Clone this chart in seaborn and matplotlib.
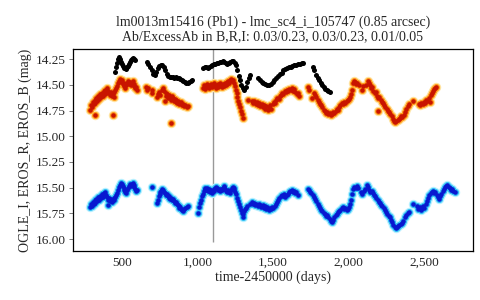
import matplotlib
matplotlib.use("Agg")
import matplotlib.pyplot as plt
import matplotlib.ticker as mticker
import seaborn as sns
import pandas as pd

sns.set_style("white")
plt.rcParams["font.family"] = ["Liberation Serif", "DejaVu Serif"]

# --- light curves (time-2450000, mag) --------------------------------------
ogle_i_t = [453, 460, 467, 474, 481, 488, 495, 502, 509, 516, 523, 530, 537, 544, 551, 558, 565, 572, 579, 586,
            665, 675, 685, 695, 705, 715, 725, 735, 745, 755, 765, 775, 785, 795, 805, 815, 825, 835, 845, 855,
            865, 875, 885, 895, 905, 915, 925, 935, 945, 955, 963,
            1036, 1046, 1056, 1066, 1076, 1086, 1096, 1106, 1116, 1126, 1136, 1146, 1156, 1166, 1176, 1186, 1196,
            1206, 1216, 1226, 1236, 1246, 1256, 1264, 1272, 1281, 1290, 1300, 1310, 1320, 1330, 1340, 1350,
            1400, 1412, 1424, 1436, 1448, 1460, 1472, 1484, 1496, 1508, 1520, 1532, 1544, 1556, 1568, 1580, 1592,
            1604, 1616, 1628, 1640, 1652, 1664, 1676, 1688, 1698,
            1764, 1774, 1784, 1794, 1804, 1814, 1824, 1834, 1844, 1856, 1866, 1877]
ogle_i_mag = [14.37, 14.33, 14.29, 14.25, 14.23, 14.25, 14.28, 14.30, 14.32, 14.34, 14.35, 14.33, 14.32, 14.30,
              14.28, 14.26, 14.25, 14.24, 14.25, 14.26,
              14.28, 14.30, 14.33, 14.36, 14.39, 14.40, 14.37, 14.34, 14.32, 14.31, 14.31, 14.33, 14.36, 14.39,
              14.41, 14.42, 14.42, 14.42, 14.43, 14.42, 14.43, 14.43, 14.44, 14.45, 14.46, 14.47, 14.48, 14.48,
              14.47, 14.46, 14.45,
              14.34, 14.33, 14.33, 14.34, 14.33, 14.32, 14.31, 14.30, 14.30, 14.29, 14.29, 14.28, 14.28, 14.27,
              14.28, 14.29, 14.30, 14.29, 14.28, 14.27, 14.27, 14.29, 14.31, 14.36, 14.41, 14.45, 14.50, 14.53,
              14.55, 14.52, 14.47, 14.43, 14.40,
              14.43, 14.45, 14.47, 14.48, 14.49, 14.50, 14.50, 14.49, 14.47, 14.45, 14.43, 14.41, 14.39, 14.38,
              14.36, 14.35, 14.34, 14.33, 14.33, 14.32, 14.31, 14.31, 14.30, 14.30, 14.29, 14.29,
              14.33, 14.36, 14.40, 14.43, 14.45, 14.48, 14.50, 14.52, 14.54, 14.55, 14.56, 14.57]

eros_r_t = [288, 294, 300, 306, 312, 318, 324, 330, 336, 342, 348, 354, 360, 366, 372, 378, 384, 390, 396, 402,
            408, 414, 420, 426, 432, 438, 444, 450, 456, 462, 468, 474, 480, 486, 492, 498, 504, 510, 516, 522,
            528, 534, 540, 546, 552, 558, 564, 570, 576, 582, 588, 594, 600, 322, 442,
            660, 666, 672, 695, 700, 730, 738, 746, 754, 762, 770, 776, 782, 788, 794, 800, 806, 812, 818, 824,
            830, 836, 842, 848, 854, 860, 866, 872, 880, 888, 896, 904, 912, 920, 928, 936, 824,
            1036, 1042, 1048, 1054, 1060, 1066, 1072, 1078, 1084, 1090, 1096, 1102, 1108, 1114, 1120, 1126, 1132,
            1138, 1144, 1150, 1156, 1162, 1168, 1174, 1180, 1186, 1192, 1198, 1204, 1210, 1216, 1222, 1228, 1234,
            1240, 1246, 1252, 1258, 1264, 1270, 1276, 1282, 1288, 1294, 1300,
            1334, 1360, 1368, 1376, 1384, 1392, 1400, 1408, 1416, 1424, 1432, 1440, 1448, 1456, 1464, 1472, 1480,
            1488, 1496, 1504, 1512, 1520, 1528, 1536, 1544, 1552, 1560, 1568, 1576, 1584, 1592, 1600, 1608, 1616,
            1624, 1632, 1640, 1648, 1656, 1664, 1670,
            1730, 1738, 1758, 1770, 1778, 1786, 1794, 1802, 1810, 1818, 1826, 1834, 1842, 1850, 1858, 1866, 1874,
            1882, 1890, 1898, 1906, 1914, 1922, 1930, 1938, 1946, 1954, 1962, 1970, 1978, 1986, 1994, 2002, 2010,
            2016, 2022, 2028, 2034, 2040, 2048, 2056, 2070, 2088, 2096, 2116, 2126, 2132, 2140, 2148, 2156, 2164,
            2172, 2180, 2188, 2196, 2196, 2204, 2212, 2220, 2228, 2236, 2244, 2252, 2260, 2268, 2276, 2284, 2292,
            2300, 2308, 2316, 2324, 2332, 2340, 2348, 2356, 2364, 2372, 2380, 2390, 2400, 2426, 2466, 2474, 2482,
            2490, 2498, 2506, 2514, 2522, 2530, 2536, 2542, 2550, 2558, 2566, 2574, 2580]
eros_r_mag = [14.74, 14.70, 14.72, 14.67, 14.69, 14.65, 14.68, 14.63, 14.66, 14.61, 14.64, 14.59, 14.62, 14.58,
              14.61, 14.56, 14.59, 14.55, 14.58, 14.53, 14.56, 14.58, 14.60, 14.57, 14.61, 14.59, 14.62, 14.57,
              14.55, 14.53, 14.51, 14.48, 14.46, 14.44, 14.47, 14.45, 14.49, 14.48, 14.51, 14.53, 14.50, 14.48,
              14.46, 14.49, 14.47, 14.50, 14.48, 14.46, 14.49, 14.51, 14.53, 14.52, 14.55, 14.79, 14.79,
              14.52, 14.55, 14.53, 14.55, 14.58, 14.62, 14.59, 14.57, 14.60, 14.55, 14.53, 14.56, 14.66, 14.58,
              14.61, 14.59, 14.63, 14.60, 14.62, 14.65, 14.61, 14.63, 14.66, 14.64, 14.67, 14.65, 14.68, 14.66,
              14.69, 14.67, 14.70, 14.69, 14.71, 14.70, 14.72, 14.71, 14.87,
              14.53, 14.50, 14.54, 14.51, 14.49, 14.52, 14.50, 14.53, 14.51, 14.49, 14.52, 14.50, 14.48, 14.51,
              14.53, 14.50, 14.52, 14.49, 14.51, 14.48, 14.50, 14.52, 14.49, 14.51, 14.48, 14.50, 14.47, 14.49,
              14.46, 14.48, 14.45, 14.44, 14.46, 14.45, 14.48, 14.51, 14.55, 14.58, 14.62, 14.66, 14.69, 14.72,
              14.75, 14.78, 14.82,
              14.65, 14.66, 14.68, 14.66, 14.69, 14.67, 14.70, 14.68, 14.71, 14.69, 14.72, 14.70, 14.73, 14.71,
              14.74, 14.72, 14.70, 14.73, 14.69, 14.67, 14.68, 14.65, 14.63, 14.64, 14.61, 14.60, 14.58, 14.59,
              14.56, 14.57, 14.55, 14.56, 14.54, 14.55, 14.53, 14.56, 14.54, 14.57, 14.59, 14.58, 14.61,
              14.52, 14.55, 14.63, 14.58, 14.60, 14.62, 14.65, 14.67, 14.69, 14.70, 14.72, 14.74, 14.75, 14.77,
              14.76, 14.78, 14.77, 14.79, 14.78, 14.76, 14.77, 14.75, 14.73, 14.74, 14.72, 14.70, 14.68, 14.69,
              14.67, 14.68, 14.66, 14.65, 14.64, 14.62, 14.59, 14.55, 14.48, 14.46, 14.47, 14.49, 14.48, 14.50,
              14.55, 14.51, 14.50, 14.46, 14.48, 14.50, 14.53, 14.52, 14.56, 14.58, 14.57, 14.61, 14.63, 14.75,
              14.62, 14.65, 14.67, 14.68, 14.70, 14.72, 14.73, 14.75, 14.76, 14.78, 14.80, 14.83, 14.85, 14.86,
              14.85, 14.84, 14.83, 14.82, 14.80, 14.81, 14.79, 14.76, 14.73, 14.71, 14.69, 14.66, 14.69, 14.70,
              14.68, 14.69, 14.67, 14.68, 14.65, 14.66, 14.63, 14.67, 14.60, 14.58, 14.56, 14.54, 14.53, 14.52]

eros_b_t = [288, 294, 300, 306, 312, 318, 324, 330, 336, 342, 348, 354, 360, 366, 372, 378, 384, 390, 396, 402,
            408, 408, 414, 420, 426, 432, 438, 444, 450, 456, 462, 468, 474, 480, 486, 492, 498, 504, 510, 516,
            522, 528, 534, 540, 546, 552, 558, 564, 570, 576, 582, 588, 594, 600,
            698, 730, 736, 742, 748, 754, 760, 766, 772, 778, 784, 790, 796, 802, 808, 814, 820, 826, 832, 838,
            844, 850, 856, 862, 868, 874, 880, 886, 892, 898, 904, 912, 920, 930, 938,
            1003, 1010, 1016, 1022, 1028, 1034, 1040, 1046, 1052, 1058, 1064, 1070, 1076, 1082, 1088, 1094, 1100,
            1106, 1112, 1118, 1124, 1130, 1136, 1142, 1148, 1154, 1160, 1166, 1172, 1178, 1184, 1190, 1196, 1202,
            1208, 1214, 1220, 1226, 1232, 1238, 1244, 1250, 1256, 1262, 1268, 1274, 1280, 1286, 1292, 1298, 1304,
            1310, 1316, 1322, 1328,
            1350, 1358, 1366, 1374, 1382, 1390, 1398, 1406, 1414, 1422, 1430, 1438, 1446, 1454, 1462, 1470, 1478,
            1486, 1494, 1502, 1510, 1518, 1526, 1534, 1542, 1550, 1558, 1566, 1574, 1582, 1590, 1598, 1606, 1614,
            1622, 1630, 1638, 1646, 1654, 1662,
            1730, 1738, 1746, 1754, 1762, 1770, 1778, 1786, 1794, 1802, 1810, 1818, 1826, 1834, 1842, 1850, 1858,
            1866, 1874, 1882, 1890, 1898, 1906, 1914, 1922, 1930, 1938, 1946, 1954, 1962, 1970, 1978, 1986, 1994,
            2002, 2010, 2018, 2024, 2030, 2038, 2046, 2054, 2062, 2080, 2090, 2100, 2110, 2120, 2128, 2136, 2144,
            2152, 2160, 2168, 2176, 2184, 2192, 2200, 2208, 2216, 2224, 2232, 2240, 2248, 2256, 2264, 2272, 2280,
            2288, 2296, 2304, 2312, 2320, 2328, 2336, 2344, 2352, 2360, 2370, 2380, 2390, 2400, 2426, 2455, 2462,
            2470, 2478, 2486, 2494, 2502, 2510, 2518, 2526, 2534, 2542, 2550, 2558, 2566, 2574, 2582, 2590, 2598,
            2606, 2614, 2622, 2630, 2638, 2646, 2654, 2662, 2670, 2678, 2686, 2694, 2704]
eros_b_mag = [15.69, 15.66, 15.68, 15.64, 15.66, 15.62, 15.65, 15.61, 15.63, 15.59, 15.62, 15.58, 15.60, 15.56,
              15.59, 15.55, 15.57, 15.54, 15.57, 15.59, 15.62, 15.67, 15.60, 15.63, 15.61, 15.64, 15.62, 15.60,
              15.62, 15.59, 15.57, 15.55, 15.52, 15.49, 15.47, 15.45, 15.46, 15.48, 15.50, 15.52, 15.54, 15.55,
              15.52, 15.50, 15.48, 15.46, 15.48, 15.46, 15.45, 15.47, 15.49, 15.51, 15.53, 15.52,
              15.49, 15.65, 15.62, 15.58, 15.56, 15.54, 15.53, 15.51, 15.52, 15.54, 15.55, 15.57, 15.56, 15.58,
              15.60, 15.58, 15.61, 15.60, 15.62, 15.61, 15.63, 15.65, 15.64, 15.66, 15.67, 15.68, 15.70, 15.69,
              15.71, 15.72, 15.73, 15.71, 15.70, 15.69, 15.68,
              15.75, 15.69, 15.65, 15.62, 15.58, 15.56, 15.53, 15.51, 15.50, 15.52, 15.50, 15.53, 15.51, 15.54,
              15.52, 15.55, 15.53, 15.51, 15.53, 15.50, 15.49, 15.50, 15.52, 15.51, 15.53, 15.51, 15.52, 15.50,
              15.48, 15.49, 15.51, 15.53, 15.54, 15.52, 15.54, 15.55, 15.52, 15.50, 15.49, 15.50, 15.52, 15.54,
              15.56, 15.60, 15.63, 15.66, 15.69, 15.72, 15.75, 15.79, 15.76, 15.73, 15.71, 15.70, 15.68,
              15.66, 15.64, 15.66, 15.65, 15.67, 15.66, 15.68, 15.66, 15.67, 15.69, 15.67, 15.70, 15.68, 15.71,
              15.69, 15.72, 15.70, 15.71, 15.69, 15.70, 15.68, 15.66, 15.64, 15.62, 15.60, 15.58, 15.57, 15.58,
              15.56, 15.59, 15.57, 15.56, 15.54, 15.53, 15.52, 15.54, 15.53, 15.55, 15.54, 15.57,
              15.51, 15.52, 15.54, 15.55, 15.57, 15.59, 15.61, 15.63, 15.66, 15.68, 15.70, 15.72, 15.73, 15.75,
              15.76, 15.78, 15.77, 15.79, 15.80, 15.82, 15.83, 15.81, 15.79, 15.77, 15.76, 15.74, 15.73, 15.72,
              15.70, 15.69, 15.71, 15.70, 15.72, 15.71, 15.69, 15.66, 15.62, 15.56, 15.51, 15.49, 15.50, 15.48,
              15.50, 15.54, 15.56, 15.53, 15.51, 15.47, 15.49, 15.52, 15.54, 15.53, 15.55, 15.57, 15.58, 15.60,
              15.62, 15.64, 15.65, 15.67, 15.68, 15.70, 15.72, 15.74, 15.76, 15.78, 15.79, 15.81, 15.83, 15.86,
              15.88, 15.89, 15.88, 15.87, 15.86, 15.85, 15.84, 15.82, 15.79, 15.77, 15.75, 15.74, 15.66, 15.68,
              15.71, 15.69, 15.72, 15.70, 15.68, 15.70, 15.66, 15.63, 15.60, 15.57, 15.55, 15.54, 15.53, 15.55,
              15.54, 15.57, 15.59, 15.61, 15.58, 15.56, 15.53, 15.51, 15.49, 15.48, 15.47, 15.49, 15.50, 15.52,
              15.51, 15.53, 15.54]

event_t = 1104  # vertical marker

title = ("lm0013m15416 (Pb1) - lmc_sc4_i_105747 (0.85 arcsec)\n"
         "Ab/ExcessAb in B,R,I: 0.03/0.23, 0.03/0.23, 0.01/0.05")

ogle = pd.DataFrame({"t": ogle_i_t, "mag": ogle_i_mag})
red = pd.DataFrame({"t": eros_r_t, "mag": eros_r_mag})
blue = pd.DataFrame({"t": eros_b_t, "mag": eros_b_mag})

fig, ax = plt.subplots(figsize=(4.8, 3.0), dpi=100)
fig.subplots_adjust(left=0.152, right=0.985, top=0.837, bottom=0.163)

ax.vlines(event_t, 14.15, 16.03, color="#999999", lw=1.0, zorder=1)

# halos (error bars) then dark points
sns.scatterplot(data=red, x="t", y="mag", ax=ax, s=46, color="#ffe3a0", linewidth=0, zorder=2)
sns.scatterplot(data=red, x="t", y="mag", ax=ax, s=26, color="#ff9a1a", linewidth=0, zorder=3)
sns.scatterplot(data=red, x="t", y="mag", ax=ax, s=11, color="#c81400", linewidth=0, zorder=4)
sns.scatterplot(data=blue, x="t", y="mag", ax=ax, s=46, color="#b8f0ff", linewidth=0, zorder=2)
sns.scatterplot(data=blue, x="t", y="mag", ax=ax, s=26, color="#30bff5", linewidth=0, zorder=3)
sns.scatterplot(data=blue, x="t", y="mag", ax=ax, s=11, color="#0818d0", linewidth=0, zorder=4)
sns.scatterplot(data=ogle, x="t", y="mag", ax=ax, s=13, color="black", linewidth=0, zorder=5)

ax.set_xlim(175, 2822)
ax.set_ylim(16.117, 14.15)
ax.set_xticks([500, 1000, 1500, 2000, 2500])
ax.set_yticks([14.25, 14.50, 14.75, 15.00, 15.25, 15.50, 15.75, 16.00])
ax.xaxis.set_major_formatter(mticker.FuncFormatter(lambda v, p: f"{v:,.0f}"))
ax.yaxis.set_major_formatter(mticker.FormatStrFormatter("%.2f"))
ax.tick_params(axis="x", length=0, labelsize=9.5, pad=4)
ax.tick_params(axis="y", length=3, width=0.6, color="#666666", labelsize=9.5, pad=2, left=True)

for sp in ax.spines.values():
    sp.set_color("black")
    sp.set_linewidth(0.9)

ax.set_xlabel("time-2450000 (days)", fontsize=10, labelpad=1)
ax.set_ylabel("OGLE_I, EROS_R, EROS_B (mag)", fontsize=10, labelpad=3)
ax.set_title(title, fontsize=10, linespacing=1.2, pad=6)

fig.savefig("out.png", dpi=100)
